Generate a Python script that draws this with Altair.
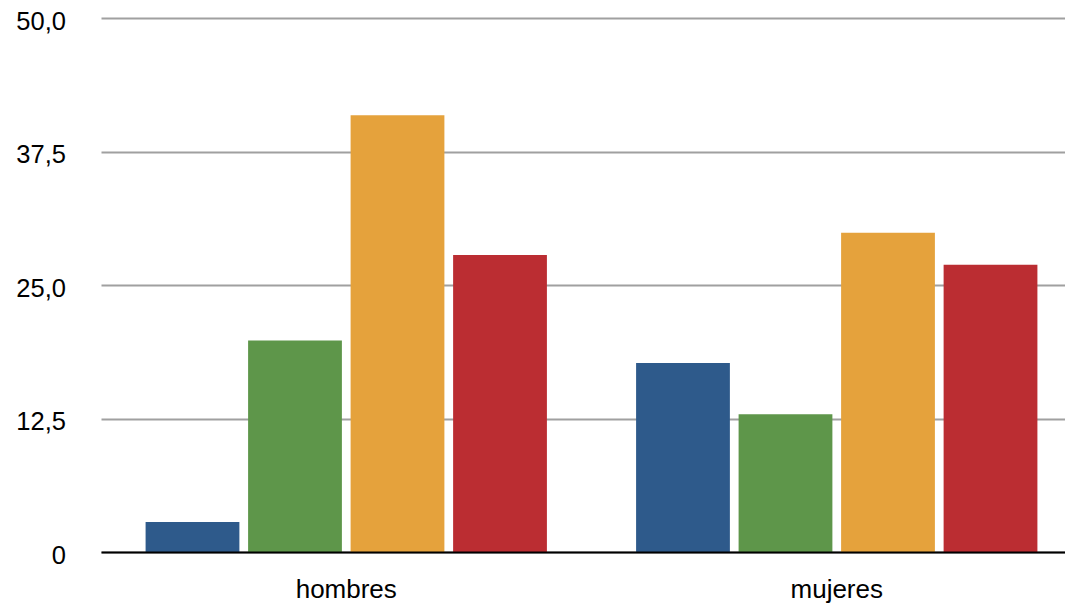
import altair as alt
import pandas as pd

groups = ["hombres", "mujeres"]
series = ["Serie 1", "Serie 2", "Serie 3", "Serie 4"]
serie1 = [2.8, 17.7]
serie2 = [19.8, 12.9]
serie3 = [40.9, 29.9]
serie4 = [27.8, 26.9]
colors = ["#2e5a8b", "#5e964a", "#e5a23c", "#bb2d32"]

tick_values = [0, 12.5, 25, 37.5, 50]
tick_labels = ["0", "12,5", "25,0", "37,5", "50,0"]

rows = []
for name, vals in zip(series, [serie1, serie2, serie3, serie4]):
    for g, v in zip(groups, vals):
        rows.append({"grupo": g, "serie": name, "valor": v})
df = pd.DataFrame(rows)

label_expr = "[" + ",".join("'%s'" % t for t in tick_labels) + "][indexof([" + ",".join(str(v) for v in tick_values) + "], datum.value)]"

FONT = "Liberation Sans"

chart = alt.Chart(df).mark_bar().encode(
    x=alt.X(
        "grupo:N",
        sort=groups,
        scale=alt.Scale(paddingInner=0, paddingOuter=0),
        axis=alt.Axis(
            title=None, labelAngle=0, ticks=False, domainColor="black",
            domainWidth=2, labelPadding=24, labelFontSize=26, labelColor="black",
            labelFont=FONT, zindex=1, grid=False,
        ),
    ),
    xOffset=alt.XOffset(
        "serie:N", sort=series,
        scale=alt.Scale(paddingInner=0.085, paddingOuter=0.435),
    ),
    y=alt.Y(
        "valor:Q",
        scale=alt.Scale(domain=[0, 50], nice=False),
        axis=alt.Axis(
            title=None, values=tick_values, labelExpr=label_expr, domain=False,
            ticks=False, gridColor="#a0a0a0", gridWidth=2, labelPadding=35.5,
            labelOffset=3, labelFontSize=25.5, labelColor="black", labelFont=FONT,
        ),
    ),
    color=alt.Color("serie:N", sort=series,
                    scale=alt.Scale(domain=series, range=colors), legend=None),
).properties(
    width=981,
    height=534,
    autosize=alt.AutoSizeParams(type="none"),
    padding={"left": 93, "top": 10, "right": -17, "bottom": 54},
).configure_view(stroke=None)

chart.save("out.html", embed_options={"renderer": "svg", "actions": False})
